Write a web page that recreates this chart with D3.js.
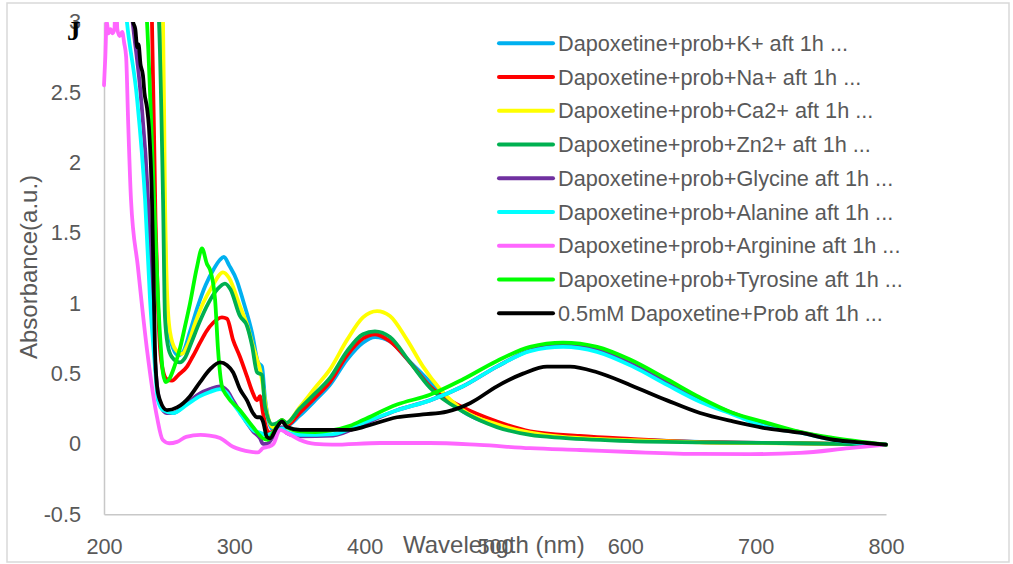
<!DOCTYPE html>
<html>
<head>
<meta charset="utf-8">
<script src="https://cdn.jsdelivr.net/npm/d3@7"></script>
<style>
    body { margin: 0; background: #fff; }
    svg { display: block; }
    .tick text { font-family: "Liberation Sans", Arial, sans-serif; font-size: 21.7px; fill: #595959; }
    .domain { stroke: #c8c8c8; stroke-width: 1.5; }
</style>
</head>
<body>
<div id="chart"></div>
<script>
// Axis ticks
const wavelengthTicks = [200, 300, 400, 500, 600, 700, 800];
const absorbanceTicks = [-0.5, 0, 0.5, 1, 1.5, 2, 2.5, 3];

// Series names and colours (legend order = drawing order)
const seriesNames = [
    'Dapoxetine+prob+K+ aft 1h ...',
    'Dapoxetine+prob+Na+ aft 1h ...',
    'Dapoxetine+prob+Ca2+ aft 1h ...',
    'Dapoxetine+prob+Zn2+ aft 1h ...',
    'Dapoxetine+prob+Glycine aft 1h ...',
    'Dapoxetine+prob+Alanine aft 1h ...',
    'Dapoxetine+prob+Arginine aft 1h ...',
    'Dapoxetine+prob+Tyrosine aft 1h ...',
    '0.5mM Dapoxetine+Prob aft 1h ...'
];
const seriesColors = ['#00b0f0', '#ff0000', '#ffff00', '#00b050', '#7030a0', '#00ffff', '#ff66ff', '#00ff00', '#000000'];

// [wavelength nm, absorbance]
const kPlus = [[238,3.6],[244.5,3.0],[246,1.9],[247.5,1.15],[249.5,0.82],[253,0.68],[257,0.63],[261,0.66],[266,0.8],[272,0.98],[278,1.13],[284,1.24],[289,1.31],[292,1.33],[296,1.27],[302,1.16],[306.7,1.02],[313.6,0.79],[318.2,0.58],[321.2,0.55],[323.5,0.33],[327,0.14],[330,0.1],[333,0.13],[336.6,0.17],[340,0.13],[350,0.2],[362,0.31],[373.4,0.42],[386.5,0.6],[398.7,0.72],[408,0.76],[419.4,0.73],[433,0.6],[445,0.49],[458,0.37],[475.5,0.23],[501.5,0.13],[527,0.07],[552,0.05],[578,0.04],[604,0.03],[657,0.015],[734,0.005],[800,-0.005]];
const naPlus = [[232,3.6],[236.8,3.0],[239.5,1.6],[241.4,1.0],[243,0.68],[245.3,0.52],[248.3,0.46],[252.2,0.45],[257,0.49],[263.7,0.55],[268,0.62],[273.7,0.72],[278.5,0.8],[283.6,0.86],[290.5,0.9],[294.4,0.89],[299,0.74],[304.3,0.62],[309.7,0.48],[314.3,0.36],[317.4,0.31],[319.7,0.34],[322,0.22],[325,0.1],[327.4,0.08],[330,0.09],[333,0.13],[336.6,0.17],[340,0.13],[350,0.22],[362,0.33],[373.4,0.44],[386.5,0.63],[398.7,0.75],[408,0.78],[419.4,0.73],[434.8,0.58],[450.1,0.41],[475.5,0.26],[501.5,0.16],[527,0.09],[565,0.057],[604,0.036],[657,0.014],[734,0.005],[800,-0.005]];
const caPlus = [[240,3.6],[245.3,3.0],[246.8,1.74],[248.3,1.1],[250.6,0.8],[255,0.67],[259.8,0.64],[264,0.7],[270,0.86],[276,1.0],[283,1.12],[291.3,1.22],[296,1.18],[304.3,0.98],[309.7,0.85],[313.6,0.72],[317.4,0.6],[319.7,0.53],[322,0.41],[325.1,0.22],[329.7,0.12],[333,0.14],[336.6,0.17],[340,0.15],[350,0.26],[362,0.4],[373.4,0.53],[386.5,0.74],[398.7,0.9],[409.5,0.945],[419.4,0.91],[432.5,0.74],[444.8,0.55],[457.8,0.39],[475.5,0.24],[501.5,0.14],[527,0.08],[552,0.05],[578,0.036],[604,0.027],[657,0.012],[734,0.004],[800,-0.005]];
const znPlus = [[237,3.6],[242.2,3.0],[245.3,1.74],[246.8,0.9],[249,0.7],[252,0.62],[258.3,0.58],[262,0.61],[267,0.72],[273,0.86],[280,1.0],[287,1.1],[292.8,1.14],[297,1.1],[304.3,0.91],[309.7,0.84],[313.6,0.7],[317.4,0.51],[321.2,0.49],[323.5,0.27],[328.9,0.14],[333,0.15],[336.6,0.17],[340,0.15],[350,0.25],[362,0.36],[373.4,0.47],[386.5,0.66],[398.7,0.78],[407.9,0.8],[419.4,0.76],[434.8,0.58],[450.1,0.4],[475.5,0.23],[501.5,0.12],[527,0.064],[552,0.043],[604,0.02],[657,0.012],[734,0.005],[800,-0.005]];
const glycine = [[216,3.6],[222,3.0],[228,2.5],[233.8,1.74],[236.5,1.1],[239.1,0.6],[241.4,0.36],[244,0.26],[248,0.22],[253,0.22],[263.7,0.29],[273.7,0.36],[281.3,0.39],[289,0.41],[294.4,0.38],[299,0.31],[304.3,0.23],[309.7,0.15],[314.3,0.09],[319.7,0.04],[322,0.0],[325,0.0],[329,0.04],[333,0.09],[336.6,0.12],[340,0.08],[350,0.055],[375.7,0.06],[398.7,0.14],[424.8,0.24],[450.1,0.31],[475.5,0.41],[501.5,0.55],[526.9,0.665],[552.2,0.7],[578.3,0.67],[605.9,0.565],[632,0.435],[657.3,0.315],[682.6,0.22],[708.7,0.13],[734,0.085],[759.4,0.035],[800,-0.005]];
const alanine = [[212,3.6],[217.6,3.0],[225.3,2.46],[231.5,1.74],[235.3,1.03],[239.1,0.55],[241.4,0.31],[245.3,0.24],[252.9,0.22],[263.7,0.28],[273.7,0.34],[281.3,0.37],[289,0.39],[294.4,0.36],[299,0.29],[304.3,0.22],[309.7,0.15],[314.3,0.1],[319.7,0.08],[325,0.064],[329.7,0.08],[336.6,0.11],[340,0.086],[350,0.064],[375.7,0.07],[398.7,0.15],[424.8,0.24],[450.1,0.31],[475.5,0.41],[501.5,0.55],[526.9,0.66],[552.2,0.69],[578.3,0.655],[605.9,0.55],[632,0.42],[657.3,0.3],[682.6,0.21],[708.7,0.12],[734,0.08],[759.4,0.03],[800,-0.005]];
const arginine = [[200,2.55],[201,2.75],[202,3.0],[203.5,2.92],[205,2.95],[206.5,2.92],[208,2.95],[209.2,3.3],[210.2,2.95],[212,2.9],[214,2.93],[215.5,2.85],[217,2.75],[218.5,2.3],[220.7,1.74],[226,1.26],[233,0.67],[240.7,0.19],[245,0.03],[250,0.005],[256,0.015],[263,0.05],[274,0.064],[281,0.06],[289,0.043],[299,-0.02],[305,-0.04],[312,-0.055],[318,-0.06],[322,-0.03],[326,-0.02],[330,0.0],[335,0.1],[340,0.08],[350,0.03],[362,0.0],[375,-0.005],[412,0.007],[450,0.007],[488,-0.007],[527,-0.03],[565,-0.043],[604,-0.057],[657,-0.071],[696,-0.072],[734,-0.064],[772,-0.029],[800,-0.005]];
const tyrosine = [[228,3.6],[233,3.0],[238.4,1.74],[241.4,1.05],[243.5,0.7],[245.3,0.5],[247.5,0.44],[250,0.46],[254,0.55],[258.3,0.68],[262,0.83],[266,1.0],[271.4,1.26],[275.2,1.39],[279,1.28],[281.3,1.24],[285.2,1.03],[287.5,0.67],[290.5,0.41],[294.4,0.34],[304.3,0.24],[314.3,0.12],[322,0.04],[325.8,0.03],[329.7,0.08],[336.6,0.17],[340.4,0.12],[350,0.09],[362,0.085],[373.4,0.095],[388.8,0.13],[398.7,0.17],[424.8,0.28],[450.1,0.35],[475.5,0.46],[501.5,0.59],[526.9,0.69],[552.2,0.72],[578.3,0.69],[603.6,0.6],[632,0.46],[657.3,0.33],[682.6,0.22],[708.7,0.15],[734,0.086],[759.4,0.043],[800,-0.005]];
const probOnly = [[217,3.6],[222.3,3.0],[224,2.95],[225.5,2.82],[226.5,2.84],[228,2.7],[229.9,2.62],[231,2.5],[233,2.39],[234.5,2.25],[236.8,1.74],[238,1.2],[239.1,0.67],[240.7,0.41],[243,0.31],[248.3,0.24],[256,0.26],[266,0.34],[273.7,0.44],[281.3,0.53],[289,0.58],[294.4,0.56],[299,0.51],[304.3,0.39],[309.7,0.31],[314.3,0.22],[317.4,0.19],[319.7,0.19],[322,0.16],[325,0.05],[327.4,0.04],[332.7,0.12],[336.6,0.16],[340.4,0.12],[350.4,0.1],[375.7,0.1],[388.8,0.1],[398.7,0.12],[424.8,0.19],[444.8,0.21],[463.2,0.23],[480.8,0.29],[501.5,0.41],[521.5,0.5],[539.9,0.55],[557.6,0.55],[578.3,0.51],[603.6,0.42],[632,0.31],[657.3,0.22],[682.6,0.16],[708.7,0.11],[734,0.08],[759.4,0.03],[785.4,0.007],[800,-0.005]];

const seriesData = [kPlus, naPlus, caPlus, znPlus, glycine, alanine, arginine, tyrosine, probOnly];

const width = 1013;
const height = 564;

const svg = d3.select('#chart')
    .append('svg')
    .attr('width', width)
    .attr('height', height);

// outer chart border
svg.append('rect')
    .attr('x', 7).attr('y', 3)
    .attr('width', 1002).attr('height', 559)
    .attr('fill', '#fff')
    .attr('stroke', '#d9d9d9')
    .attr('stroke-width', 1.5);

const x = d3.scaleLinear().domain([200, 800]).range([104, 886]);
const y = d3.scaleLinear().domain([-0.5, 3]).range([514.3, 22]);

svg.append('defs').append('clipPath')
    .attr('id', 'plot-clip')
    .append('rect')
    .attr('x', x(200) - 4).attr('y', y(3))
    .attr('width', x(800) - x(200) + 8).attr('height', y(-0.5) - y(3));

// axes
const yAxis = svg.append('g')
    .attr('transform', `translate(${x(200)},0)`)
    .call(d3.axisLeft(y).tickValues(absorbanceTicks).tickFormat(d => String(d))
        .tickSize(0).tickSizeOuter(0).tickPadding(23));

const xAxis = svg.append('g')
    .attr('transform', `translate(0,${y(-0.5)})`)
    .call(d3.axisBottom(x).tickValues(wavelengthTicks).tickFormat(d => String(d))
        .tickSize(0).tickSizeOuter(0));
xAxis.selectAll('.tick text').attr('y', 40).attr('dy', 0);

// spectra
const line = d3.line()
    .x(d => x(d[0]))
    .y(d => y(d[1]))
    .curve(d3.curveMonotoneX);

svg.append('g')
    .attr('clip-path', 'url(#plot-clip)')
    .selectAll('path')
    .data(seriesData)
    .enter().append('path')
    .attr('d', line)
    .attr('fill', 'none')
    .attr('stroke', (d, i) => seriesColors[i])
    .attr('stroke-width', 3.8)
    .attr('stroke-linejoin', 'round')
    .attr('stroke-linecap', 'round');

// legend
const legend = svg.append('g');
seriesNames.forEach((name, i) => {
    const ly = 43.3 + i * 33.75;
    legend.append('line')
        .attr('x1', 499).attr('x2', 553)
        .attr('y1', ly).attr('y2', ly)
        .attr('stroke', seriesColors[i])
        .attr('stroke-width', 4)
        .attr('stroke-linecap', 'round');
    legend.append('text')
        .attr('x', 558).attr('y', ly + 7.6)
        .attr('font-family', '"Liberation Sans", Arial, sans-serif')
        .attr('font-size', 21.7)
        .attr('fill', '#595959')
        .text(name);
});

// axis titles
svg.append('text')
    .attr('transform', 'translate(37,267) rotate(-90)')
    .attr('text-anchor', 'middle')
    .attr('font-family', '"Liberation Sans", Arial, sans-serif')
    .attr('font-size', 24)
    .attr('fill', '#595959')
    .text('Absorbance(a.u.)');

svg.append('text')
    .attr('x', 403).attr('y', 553)
    .attr('font-family', '"Liberation Sans", Arial, sans-serif')
    .attr('font-size', 24)
    .attr('fill', '#595959')
    .text('Wavelength (nm)');

// panel letter
svg.append('text')
    .attr('x', 67).attr('y', 40)
    .attr('font-family', '"Liberation Serif", "Times New Roman", serif')
    .attr('font-weight', 'bold')
    .attr('font-size', 27)
    .attr('fill', '#000')
    .text('J');
</script>
</body>
</html>
